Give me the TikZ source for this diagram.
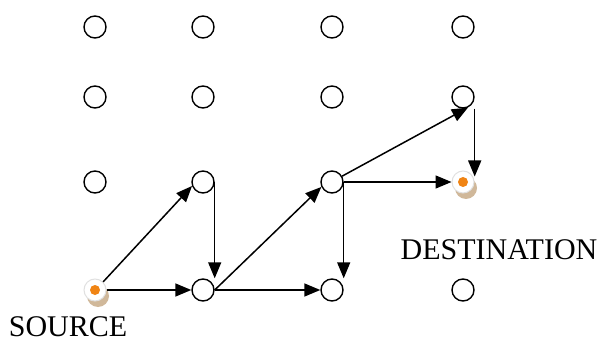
\documentclass[tikz,border=0pt]{standalone}
\usepackage{fontspec}
\setmainfont{Liberation Serif}
\usetikzlibrary{arrows.meta,calc}
\definecolor{dotorange}{RGB}{240,132,20}
\definecolor{shadowtan}{RGB}{196,166,128}
\begin{document}
\begin{tikzpicture}[x=1pt,y=-1pt,
  gridpt/.style={circle,draw=black,line width=1.4pt,fill=white,minimum size=22pt,inner sep=0pt},
  endpt/.style={circle,draw=black!12,line width=1pt,fill=white,minimum size=22pt,inner sep=0pt},
  link/.style={line width=1.5pt,-{Triangle[length=16pt,width=13pt]}},
  lbl/.style={font=\fontsize{30}{36}\selectfont,inner sep=0pt}]
\useasboundingbox (0,0) rectangle (601,344);
% grid
\node[gridpt] (a1) at (95,27) {};
\node[gridpt] (b1) at (203,27) {};
\node[gridpt] (c1) at (332,27) {};
\node[gridpt] (d1) at (463,27) {};
\node[gridpt] (a2) at (95,97) {};
\node[gridpt] (b2) at (203,97) {};
\node[gridpt] (c2) at (332,97) {};
\node[gridpt] (d2) at (463,97) {};
\node[gridpt] (a3) at (95,182) {};
\node[gridpt] (b3) at (203,182) {};
\node[gridpt] (c3) at (332,182) {};
\node[gridpt] (d4) at (463,290) {};
\node[gridpt] (b4) at (203,290) {};
\node[gridpt] (c4) at (332,290) {};
% source and destination
\fill[shadowtan!80] (98,296) circle (11);
\node[endpt] (a4) at (95,290) {};
\fill[dotorange] (a4.center) circle (5);
\fill[shadowtan!80] (466,188) circle (11);
\node[endpt] (d3) at (463,182) {};
\fill[dotorange] (d3.center) circle (5);
% labels
\node[lbl] (src) at (68,327) {SOURCE};
\node[lbl] (dst) at (499,250) {DESTINATION};
% connectors
\draw[link] (a4.45) -- (b3.200);
\draw[link] (a4.east) -- (b4.west);
\draw[link] (b3.east) -- (b3.east |- b4.north);
\draw[link] (b4.east) -- (c3.205);
\draw[link] (b4.east) -- (c4.west);
\draw[link] (c3.east) -- (c3.east |- c4.north);
\draw[link] (c3.east) -- (d3.west);
\draw[link] (c3.30) -- (d2.295);
\draw[link] (d2.east |- d2.south) -- ($(d2.east |- d3.north)+(0,6)$);
\end{tikzpicture}
\end{document}
